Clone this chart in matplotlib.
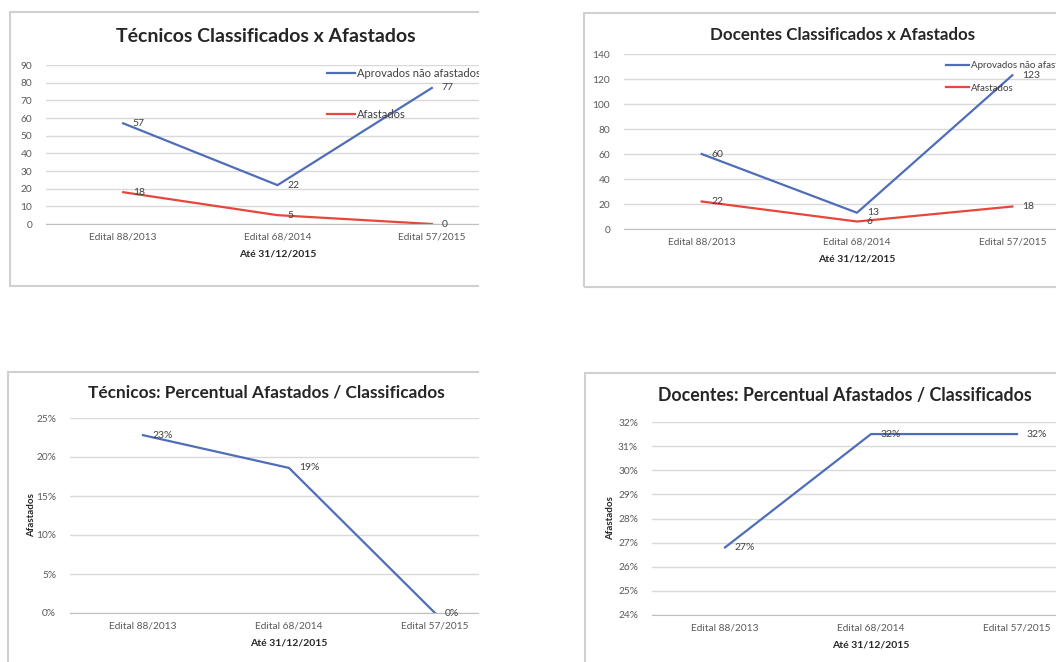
import matplotlib
matplotlib.use("Agg")
import matplotlib.pyplot as plt
from matplotlib.patches import Rectangle

plt.rcParams['font.family'] = ['Lato', 'DejaVu Sans']

# data
editais = ['Edital 88/2013', 'Edital 68/2014', 'Edital 57/2015']
tec_aprovados = [57, 22, 77]
tec_afastados = [18, 5, 0]
doc_aprovados = [60, 13, 123]
doc_afastados = [22, 6, 18]
tec_percent = [0.228, 0.186, 0.0]
doc_percent = [0.268, 0.315, 0.315]

W, H = 1056, 662
BLUE = '#4F6DB8'
RED = '#E8453C'
GRID = '#D9D9D9'
TXT = '#404040'

fig = plt.figure(figsize=(W / 100, H / 100), dpi=100)
fig.patch.set_facecolor('white')


def px(x0, y0, x1, y1):
    # pixel box (top-left origin) -> figure fraction rect
    return [x0 / W, 1 - y1 / H, (x1 - x0) / W, (y1 - y0) / H]


def fx(x):
    return x / W


def fy(y):
    return 1 - y / H


def frame(x0, y0, x1, y1):
    fig.add_artist(Rectangle((fx(x0), fy(y1)), fx(x1) - fx(x0), fy(y0) - fy(y1),
                             transform=fig.transFigure, fill=False,
                             edgecolor='#D0D0D0', lw=1.5, zorder=1))


def style(ax, ymin, ymax, step, pct=False):
    ax.set_xlim(-0.5, 2.5)
    ax.set_ylim(ymin, ymax)
    ticks = []
    v = ymin
    while v <= ymax + 1e-9:
        ticks.append(v)
        v += step
    ax.set_yticks(ticks)
    if pct:
        ax.set_yticklabels(['%d%%' % round(t * 100) for t in ticks])
    ax.set_xticks(range(len(editais)))
    ax.set_xticklabels(editais)
    ax.grid(axis='y', color=GRID, lw=1)
    ax.set_axisbelow(True)
    for s in ['top', 'right', 'left']:
        ax.spines[s].set_visible(False)
    ax.spines['bottom'].set_color('#BFBFBF')
    ax.tick_params(axis='both', length=0, colors='#595959', labelsize=7.3)
    ax.tick_params(axis='y', pad=10)
    ax.tick_params(axis='x', pad=6)
    ax.patch.set_alpha(0)


def labels(ax, values, fmt):
    for i, v in enumerate(values):
        ax.annotate(fmt(v), (i, v), xytext=(7, 0), textcoords='offset points',
                    ha='left', va='center', fontsize=7.5, color=TXT)


def pct_fmt(v):
    return '%d%%' % int(v * 100 + 0.5)


# panel frames (right edges hidden under the white gap)
frame(10, 12, 560, 286)
frame(584, 13, 1100, 287)
frame(8, 372, 560, 700)
frame(585, 373, 1100, 700)

# Tecnicos classificados x afastados
ax1 = fig.add_axes(px(46, 65, 509, 224))
ax1.plot(range(3), tec_aprovados, color=BLUE, lw=1.6, label='Aprovados não afastados')
ax1.plot(range(3), tec_afastados, color=RED, lw=1.6, label='Afastados')
style(ax1, 0, 90, 10)
labels(ax1, tec_aprovados, str)
labels(ax1, tec_afastados, str)
ax1.set_xlabel('Até 31/12/2015', fontsize=7.5, fontweight='bold', color='#262626', labelpad=6)
fig.text(fx(266), fy(36), 'Técnicos Classificados x Afastados', ha='center', va='center',
         fontsize=14, fontweight='bold', color='#262626')
ax1.legend(loc='upper left', bbox_to_anchor=(fx(327), fy(68)), bbox_transform=fig.transFigure,
           frameon=False, fontsize=8, labelcolor=TXT, handlelength=2.5, handletextpad=0.2,
           labelspacing=2.7, borderpad=0, borderaxespad=0)

# Docentes classificados x afastados
ax2 = fig.add_axes(px(624, 54, 1090, 229))
ax2.plot(range(3), doc_aprovados, color=BLUE, lw=1.6, label='Aprovados não afastados')
ax2.plot(range(3), doc_afastados, color=RED, lw=1.6, label='Afastados')
style(ax2, 0, 140, 20)
labels(ax2, doc_aprovados, str)
labels(ax2, doc_afastados, str)
ax2.set_xlabel('Até 31/12/2015', fontsize=7.5, fontweight='bold', color='#262626', labelpad=6)
fig.text(fx(843), fy(35), 'Docentes Classificados x Afastados', ha='center', va='center',
         fontsize=12.2, fontweight='bold', color='#262626')
ax2.legend(loc='upper left', bbox_to_anchor=(fx(946), fy(61)), bbox_transform=fig.transFigure,
           frameon=False, fontsize=7, labelcolor=TXT, handlelength=2.4, handletextpad=0.2,
           labelspacing=1.4, borderpad=0, borderaxespad=0)

# Tecnicos percentual
ax3 = fig.add_axes(px(70, 418, 508, 613))
ax3.plot(range(3), tec_percent, color=BLUE, lw=1.6)
style(ax3, 0, 0.25, 0.05, pct=True)
labels(ax3, tec_percent, pct_fmt)
ax3.set_xlabel('Até 31/12/2015', fontsize=7.5, fontweight='bold', color='#262626', labelpad=6)
ax3.set_ylabel('Afastados', fontsize=7, fontweight='bold', color='#262626', labelpad=0)
fig.text(fx(266), fy(393), 'Técnicos: Percentual Afastados / Classificados', ha='center',
         va='center', fontsize=12.4, fontweight='bold', color='#262626')

# Docentes percentual
ax4 = fig.add_axes(px(652, 422, 1090, 615))
ax4.plot(range(3), doc_percent, color=BLUE, lw=1.6)
style(ax4, 0.24, 0.32, 0.01, pct=True)
labels(ax4, doc_percent, pct_fmt)
ax4.set_xlabel('Até 31/12/2015', fontsize=7.5, fontweight='bold', color='#262626', labelpad=6)
ax4.set_ylabel('Afastados', fontsize=7, fontweight='bold', color='#262626', labelpad=2)
fig.text(fx(845), fy(395), 'Docentes: Percentual Afastados / Classificados', ha='center',
         va='center', fontsize=12.8, fontweight='bold', color='#262626')

# white gap between the cropped panels
fig.add_artist(Rectangle((fx(479), 0), fx(582) - fx(479), 1, transform=fig.transFigure,
                         facecolor='white', edgecolor='none', zorder=50))
fig.add_artist(Rectangle((0, fy(362)), 1, fy(292) - fy(362), transform=fig.transFigure,
                         facecolor='white', edgecolor='none', zorder=50))

fig.savefig('out.png', dpi=100)
